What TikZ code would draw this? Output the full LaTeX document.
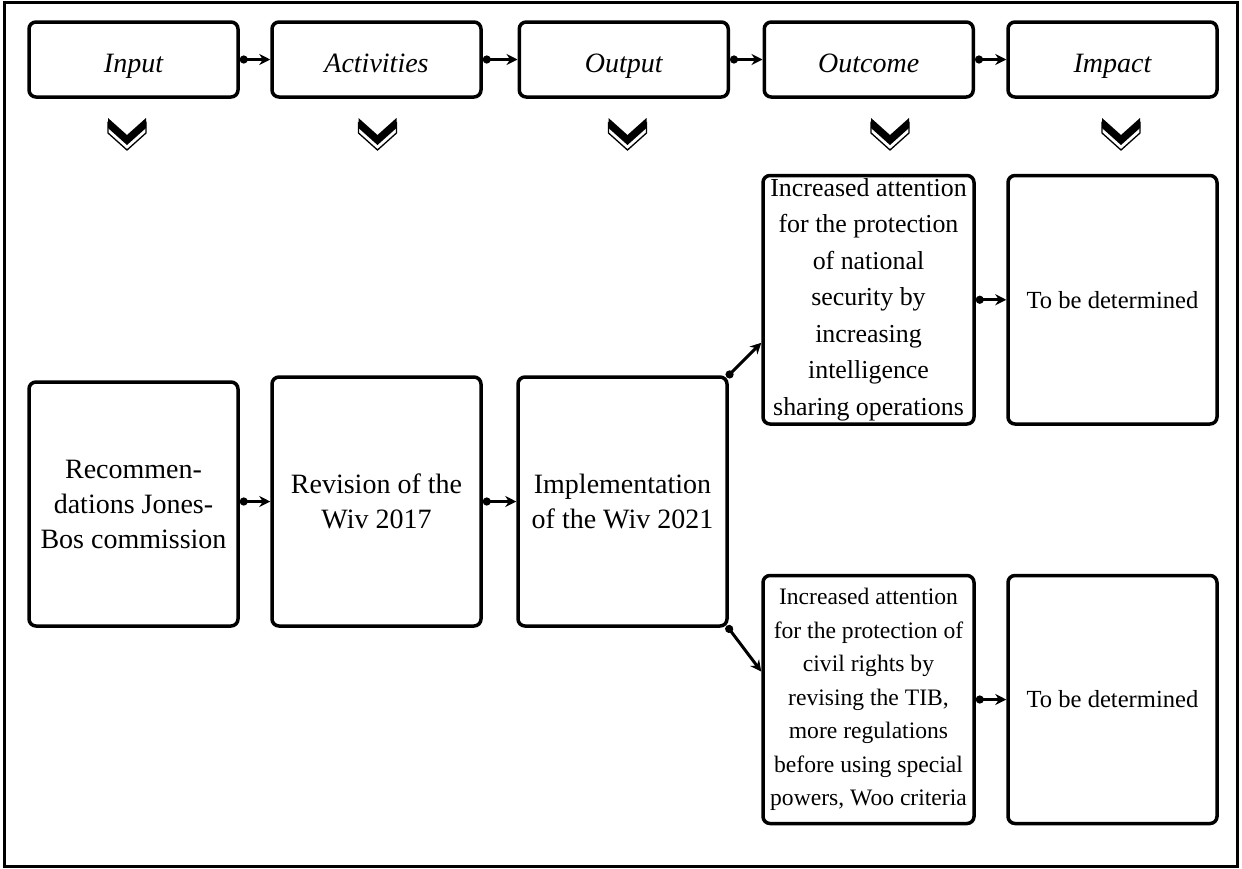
\documentclass[tikz,border=0pt]{standalone}
\usepackage{fontspec}
\setmainfont{Liberation Serif}
\usetikzlibrary{arrows.meta,calc}
\begin{document}
\begin{tikzpicture}[x=1pt,y=-1pt,
  box/.style={draw,line width=3.5pt,rounded corners=7pt,inner sep=0pt,align=center,minimum width=209pt},
  head/.style={box,minimum height=75pt,text height=25pt,text depth=0pt,font=\fontsize{28}{34}\selectfont\itshape},
  big/.style={box,font=\fontsize{28}{35}\selectfont},
  outa/.style={box,minimum width=211pt,minimum height=248.5pt,font=\fontsize{25.9}{36.5}\selectfont},
  outb/.style={box,minimum width=211pt,minimum height=248pt,font=\fontsize{23.6}{33.5}\selectfont},
  imp/.style={box,minimum height=248.5pt,font=\fontsize{24.6}{30}\selectfont},
  conn/.style={line width=3pt,{Circle[length=8pt]}-{Stealth[length=11pt,width=11pt]}},
  chev/.pic={
    \path[draw=black,line width=1.3pt,fill=white] (-19,5)--(0,22)--(19,5)--(19,15)--(0,32)--(-19,15)--cycle;
    \path[fill=black] (-19,0)--(0,17)--(19,0)--(19,10)--(0,27)--(-19,10)--cycle;
  }
]
\useasboundingbox (0,0) rectangle (1242,868);
\draw[line width=3pt] (4.5,2.5) rectangle (1237.5,866);

% header row
\node[head] (hin)  at (133.5,59.5)  {Input};
\node[head] (hact) at (376.5,59.5)  {Activities};
\node[head] (hout) at (623.75,59.5) {Output};
\node[head] (hoc)  at (868.75,59.5) {Outcome};
\node[head] (him)  at (1112.5,59.5) {Impact};
\draw[conn] (hin) -- (hact);
\draw[conn] (hact) -- (hout);
\draw[conn] (hout) -- (hoc);
\draw[conn] (hoc) -- (him);

% chevrons
\pic at (127,118) {chev};
\pic at (377.5,118) {chev};
\pic at (627.5,118) {chev};
\pic at (890,118) {chev};
\pic at (1121,118) {chev};

% main row
\node[big,minimum height=244pt] (rec) at (133.5,504) {Recommen-\\dations Jones-\\Bos commission};
\node[big,minimum height=249pt] (rev) at (376.5,501.5) {Revision of the\\Wiv 2017};
\node[big,minimum height=249pt] (impl) at (622.5,501.5) {Implementation\\of the Wiv 2021};
\node[outa] (oc1) at (868.5,299.75) {Increased attention\\for the protection\\of national\\security by\\increasing\\intelligence\\sharing operations};
\node[imp] (im1) at (1112.5,299.75) {To be determined};
\node[outb] (oc2) at (868.5,699.5) {Increased attention\\for the protection of\\civil rights by\\revising the TIB,\\more regulations\\before using special\\powers, Woo criteria};
\node[imp,minimum height=248pt] (im2) at (1112.5,699.5) {To be determined};

\draw[conn] (rec.east |- rev.west) -- (rev.west);
\draw[conn] (rev) -- (impl);
\draw[conn] (oc1) -- (im1);
\draw[conn] (oc2) -- (im2);
\draw[conn] ($(impl.north east)+(-2,2)$) -- ($(oc1.west)+(0,43)$);
\draw[conn] ($(impl.south east)+(-2,-2)$) -- ($(oc2.west)+(0,-28)$);
\end{tikzpicture}
\end{document}
